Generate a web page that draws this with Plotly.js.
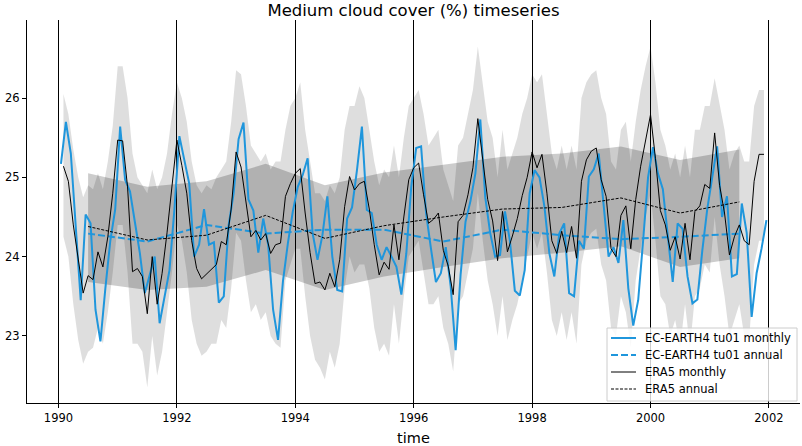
<!DOCTYPE html>
<html><head><meta charset="utf-8">
<script src="https://cdn.plot.ly/plotly-3.0.1.min.js"></script>
<style>html,body{margin:0;padding:0;background:#fff}#chart{width:802px;height:446px}</style>
</head><body><div id="chart"></div>
<script>
// EC-EARTH4 tu01 monthly, Jan 1990 .. Dec 2001
const ec_monthly = [
 25.17,25.70,25.30,24.38,23.45,24.53,24.42,23.33,22.93,23.60,24.20,24.60,
 25.64,24.97,24.82,24.43,24.04,23.54,23.77,24.00,23.16,23.50,23.83,24.60,
 25.52,25.22,24.92,24.00,24.15,24.60,24.15,24.18,23.42,23.50,24.40,24.80,
 25.48,25.69,24.72,24.58,24.05,24.48,24.15,23.33,22.95,23.69,24.17,24.57,
 24.88,25.03,25.24,24.30,23.96,24.27,24.76,24.00,23.58,23.56,24.48,24.62,
 25.09,25.64,24.59,24.55,24.15,23.96,24.12,24.00,23.87,23.52,24.04,24.88,
 25.37,25.39,24.55,24.10,23.68,23.79,24.12,23.62,22.82,23.77,24.44,24.70,
 25.05,25.73,24.75,24.30,24.00,24.02,24.57,24.20,23.57,23.51,23.83,24.80,
 25.09,25.00,24.63,24.04,23.75,24.29,24.42,23.54,23.50,24.20,24.10,25.01,
 25.10,25.30,24.65,24.00,24.12,23.92,24.46,23.60,23.13,23.45,24.20,25.00,
 25.38,25.05,24.85,24.30,23.68,24.42,24.35,23.75,23.41,23.46,24.08,24.60,
 25.00,25.39,24.50,24.76,23.75,23.78,24.67,24.30,23.24,23.79,24.10,24.46];
// ERA5 monthly, Jan 1990 .. Nov 2001
const era5_monthly = [
 25.14,24.95,24.40,23.95,23.54,23.76,23.71,24.06,23.87,24.25,24.80,25.47,
 25.46,24.88,23.81,23.85,23.75,23.28,24.00,23.40,23.79,24.30,24.90,25.47,
 25.15,24.80,24.20,23.85,23.72,23.78,23.85,23.90,24.19,24.15,24.60,25.32,
 25.13,24.67,24.25,24.33,24.21,24.29,24.04,24.15,24.17,24.76,24.92,25.05,
 25.11,24.55,24.05,23.66,23.68,23.58,23.79,23.62,23.96,24.63,25.01,24.84,
 24.92,24.95,24.60,24.15,23.77,23.93,23.84,24.40,23.96,24.50,24.97,25.12,
 25.18,24.78,24.42,24.47,24.55,24.08,23.88,23.52,24.44,24.52,24.78,25.12,
 25.74,25.22,24.72,24.45,23.95,24.57,24.06,24.26,24.48,24.77,25.00,25.32,
 25.12,25.29,24.80,24.20,24.04,24.32,24.05,24.38,23.98,24.95,25.22,25.33,
 25.37,24.97,24.76,24.10,24.00,24.52,24.64,24.10,24.72,25.14,25.48,25.79,
 25.24,24.58,24.40,24.08,24.25,23.97,24.42,23.96,24.57,24.64,24.91,24.86,
 25.56,24.90,24.55,24.02,24.25,24.40,24.20,24.15,24.95,25.29,25.29];
// monthly spread band (light grey), on ERA5 months
const band_monthly_upper = [
 26.05,25.80,25.35,25.00,24.75,24.90,24.85,25.05,24.85,25.20,25.65,26.40,
 26.40,26.00,25.30,25.00,24.90,24.80,25.10,24.85,25.00,25.30,25.80,26.20,
 26.00,25.70,25.20,24.90,24.80,24.90,24.85,25.00,25.10,25.20,25.70,26.35,
 26.30,25.90,25.40,25.30,25.20,25.30,25.10,25.20,25.20,25.60,25.90,26.00,
 26.20,25.60,25.20,24.80,24.80,24.70,24.90,24.80,25.00,25.60,25.90,25.90,
 26.15,26.00,25.60,25.20,24.90,25.10,25.00,25.40,25.00,25.50,25.90,26.00,
 26.10,25.80,25.40,25.50,25.60,25.10,24.90,24.70,25.40,25.50,25.80,26.10,
 26.65,26.20,25.70,25.50,25.00,25.60,25.10,25.30,25.50,25.80,26.00,26.30,
 26.20,26.30,25.80,25.30,25.10,25.40,25.10,25.40,25.10,26.00,26.20,26.30,
 26.35,26.00,25.80,25.20,25.10,25.60,25.70,25.20,25.70,26.10,26.40,26.65,
 26.20,25.60,25.40,25.10,25.30,25.00,25.40,25.00,25.60,25.60,25.90,25.90,
 26.25,25.90,25.60,25.10,25.30,25.40,25.20,25.20,25.90,26.10,26.10];
const band_monthly_lower = [
 24.25,24.00,23.40,22.95,22.65,22.80,22.85,23.10,22.90,23.30,23.80,24.40,
 24.40,23.80,22.90,22.90,22.80,22.35,23.00,22.50,22.80,23.30,23.80,24.40,
 24.20,23.80,23.20,22.90,22.75,22.80,22.90,22.90,23.20,23.10,23.60,24.30,
 24.20,23.70,23.30,23.40,23.20,23.30,23.00,22.90,22.85,23.70,23.90,24.10,
 24.10,23.50,23.00,22.70,22.60,22.45,22.80,22.60,22.90,23.60,24.00,23.80,
 23.90,23.90,23.60,23.10,22.80,22.90,22.75,23.40,22.90,23.50,24.00,24.10,
 24.20,23.80,23.40,23.40,23.50,23.10,22.90,22.55,23.40,23.50,23.80,24.10,
 24.80,24.20,23.70,23.40,23.00,23.50,22.95,23.20,23.40,23.70,24.00,24.30,
 24.10,24.30,23.80,23.20,23.00,23.30,22.95,23.30,22.90,23.90,24.20,24.30,
 24.35,23.90,23.70,23.10,23.00,23.50,23.30,22.85,23.70,24.10,24.50,24.80,
 24.20,23.50,23.40,23.00,23.20,22.85,23.40,22.85,23.50,23.60,23.90,23.80,
 24.50,23.90,23.50,23.00,23.20,23.40,23.00,22.95,23.90,24.20,24.20];
// annual means 1990..2001
const years = [1990,1991,1992,1993,1994,1995,1996,1997,1998,1999,2000,2001];
const ec_annual   = [24.29,24.19,24.40,24.29,24.34,24.34,24.19,24.34,24.27,24.22,24.25,24.29];
const era5_annual = [24.38,24.21,24.27,24.52,24.23,24.39,24.50,24.60,24.62,24.74,24.55,24.69];
const era5_annual_upper = [25.05,24.88,24.95,25.17,24.90,25.06,25.16,25.26,25.30,25.39,25.22,25.35];
const era5_annual_lower = [23.68,23.58,23.62,23.83,23.58,23.75,23.87,23.98,24.05,24.13,23.87,23.98];
const xTicks = [1990,1992,1994,1996,1998,2000,2002];
const yTicks = [23,24,25,26];
const legendNames = ['EC-EARTH4 tu01 monthly','EC-EARTH4 tu01 annual','ERA5 monthly','ERA5 annual'];

const ecT = ec_monthly.map((v,i)=>1990+(i+0.5)/12);
const erT = era5_monthly.map((v,i)=>1990+(i+1)/12);
const anT = years.map(y=>y+0.5);
const rev = a=>a.slice().reverse();

const blue = '#1f96dc';
const styles = [
 {color:blue, width:2},
 {color:blue, width:2, dash:'7px,3px'},
 {color:'#000', width:1},
 {color:'#000', width:1, dash:'3px,1.5px'}
];
const traces = [
 {x: erT.concat(rev(erT)), y: band_monthly_upper.concat(rev(band_monthly_lower)),
  fill:'toself', fillcolor:'rgba(0,0,0,0.13)', line:{width:0}, mode:'lines', showlegend:false, hoverinfo:'skip'},
 {x: anT.concat(rev(anT)), y: era5_annual_upper.concat(rev(era5_annual_lower)),
  fill:'toself', fillcolor:'rgba(0,0,0,0.2)', line:{width:0}, mode:'lines', showlegend:false, hoverinfo:'skip'},
 {x: ecT, y: ec_monthly, mode:'lines', name:legendNames[0], line:styles[0]},
 {x: anT, y: ec_annual, mode:'lines', name:legendNames[1], line:styles[1]},
 {x: erT, y: era5_monthly, mode:'lines', name:legendNames[2], line:styles[2]},
 {x: anT, y: era5_annual, mode:'lines', name:legendNames[3], line:styles[3]}
];
// hand-made legend box (pixel geometry -> paper coords)
const M = {l:27, r:2, t:20, b:43}, W = 802, H = 446;
const pw = W - M.l - M.r, ph = H - M.t - M.b;
const px = x => (x - M.l) / pw, py = y => (H - M.b - y) / ph;
const shapes = [{type:'rect', xref:'paper', yref:'paper', x0:px(607), x1:px(797), y0:py(401), y1:py(328),
  fillcolor:'rgba(255,255,255,0.8)', line:{color:'#cccccc', width:1}, layer:'above'}];
const annotations = [];
legendNames.forEach((n,i)=>{
  const yy = 338 + i*17;
  shapes.push({type:'line', xref:'paper', yref:'paper', x0:px(611), x1:px(636), y0:py(yy), y1:py(yy), line:styles[i], layer:'above'});
  annotations.push({text:n, xref:'paper', yref:'paper', x:px(643), y:py(yy), xanchor:'left', yanchor:'middle', showarrow:false, font:{size:11.5}});
});
const layout = {
 width:W, height:H, margin:M, showlegend:false,
 paper_bgcolor:'#fff', plot_bgcolor:'#fff',
 font:{family:'DejaVu Sans', color:'#000', size:11.5},
 title:{text:'Medium cloud cover (%) timeseries', font:{size:16.5, family:'DejaVu Sans'}, x:0.5, xref:'paper', y:0.977, yref:'container', yanchor:'middle'},
 xaxis:{range:[1989.468,2002.525], tickvals:xTicks, ticktext:xTicks.map(String), ticks:'outside', ticklen:4, tickcolor:'#000',
   showline:true, linecolor:'#000', linewidth:1, showgrid:true, gridcolor:'#000', gridwidth:1, zeroline:false,
   tickfont:{size:11.5}, title:{text:'time', font:{size:14.5}, standoff:9}},
 yaxis:{range:[22.154,26.984], tickvals:yTicks, ticktext:yTicks.map(String), ticks:'outside', ticklen:4, tickcolor:'#000',
   showline:true, linecolor:'#000', linewidth:1, showgrid:false, zeroline:false, tickfont:{size:11.5}},
 shapes: shapes, annotations: annotations
};
Plotly.newPlot('chart', traces, layout, {staticPlot:true, displayModeBar:false});
</script></body></html>
